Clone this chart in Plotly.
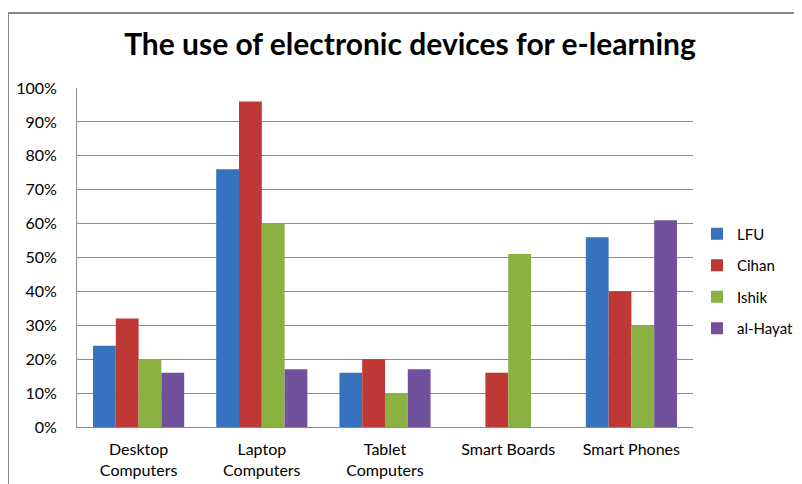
import plotly.graph_objects as go

categories = ["Desktop<br>Computers", "Laptop<br>Computers", "Tablet<br>Computers", "Smart Boards", "Smart Phones"]
series_names = ["LFU", "Cihan", "Ishik", "al-Hayat"]
lfu = [24, 76, 16, 0, 56]
cihan = [32, 96, 20, 16, 40]
ishik = [20, 60, 10, 51, 30]
al_hayat = [16, 17, 17, 0, 61]
tick_vals = [0, 10, 20, 30, 40, 50, 60, 70, 80, 90, 100]
tick_text = [f"{v}%" for v in tick_vals]

colors = ["#3672BD", "#BE3835", "#8BB143", "#72519C"]
values = [lfu, cihan, ishik, al_hayat]

FONT = "Lato, 'Open Sans', sans-serif"

fig = go.Figure()
for name, vals, c in zip(series_names, values, colors):
    fig.add_trace(go.Bar(
        x=categories, y=vals, name=name,
        marker=dict(color=c, line=dict(width=0)),
        legendgroup=name,
    ))

# the page body has an 8px margin, so figure coordinates = page coordinates - 8
OFF = 8
W, H = 802 - OFF, 484 - OFF
L, R, T, B = 77 - OFF, 693 - OFF, 88 - OFF, 427 - OFF

fig.update_layout(
    width=W, height=H,
    margin=dict(l=L, r=W - R, t=T, b=H - B, pad=0, autoexpand=False),
    paper_bgcolor="white", plot_bgcolor="white",
    barmode="group", bargap=0.26, bargroupgap=0,
    font=dict(family=FONT, size=16, color="#000000"),
    title=dict(text="<b>The use of electronic devices for e-learning</b>",
               x=(410 - OFF) / W, xanchor="center", y=1 - (47 - OFF - 3) / H, yanchor="middle",
               font=dict(family=FONT, size=30, color="#000000")),
    legend=dict(x=(697 - OFF - L) / (R - L), xanchor="left",
                y=(B - (281 - OFF)) / (B - T), yanchor="middle",
                font=dict(family=FONT, size=15, color="#000000"),
                tracegroupgap=9, bgcolor="rgba(0,0,0,0)"),
    showlegend=True,
)
fig.update_yaxes(range=[0, 100], tickvals=tick_vals, ticktext=tick_text,
                 showgrid=True, gridcolor="#8C8C8C", gridwidth=1,
                 showline=True, linecolor="#8C8C8C", linewidth=1,
                 ticks="", ticklabelstandoff=16, zeroline=False, automargin=False,
                 tickfont=dict(family=FONT, size=16))
fig.update_xaxes(showline=True, linecolor="#8C8C8C", linewidth=1,
                 ticks="", ticklabelstandoff=8, automargin=False,
                 tickfont=dict(family=FONT, size=16))

# outer chart border
fig.add_shape(type="rect", xref="paper", yref="paper",
              x0=(8 - OFF - L) / (R - L), x1=(830 - OFF - L) / (R - L),
              y0=(B - (520 - OFF)) / (B - T), y1=(B - (13 - OFF)) / (B - T),
              line=dict(color="#888888", width=2), fillcolor="rgba(0,0,0,0)",
              layer="below")

fig.write_html("out.html")
